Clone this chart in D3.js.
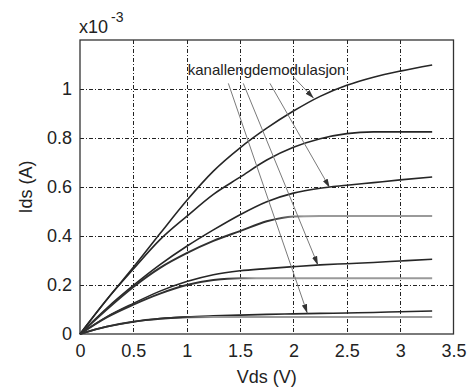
<!DOCTYPE html>
<html>
<head>
<meta charset="utf-8">
<script src="https://cdn.jsdelivr.net/npm/d3@7"></script>
<style>
  body { margin: 0; background: #fff; }
  text { font-family: "Liberation Sans", Arial, sans-serif; fill: #222; }
</style>
</head>
<body>
<svg id="chart" width="468" height="390"></svg>
<script>
/* globals d3 */

// Vds sample points (V)
const vds = [0, 0.25, 0.5, 0.75, 1, 1.25, 1.5, 1.75, 2, 2.25, 2.5, 2.75, 3, 3.3];

// Ids in units of 1e-3 A
// black = with channel length modulation, grey = without
const ids1 = [0, 0.14, 0.272, 0.41, 0.545, 0.665, 0.76, 0.84, 0.91, 0.97, 1.015, 1.048, 1.073, 1.098];
const ids2 = [0, 0.14, 0.265, 0.385, 0.48, 0.57, 0.64, 0.71, 0.762, 0.797, 0.818, 0.825, 0.825, 0.825];
const ids3 = [0, 0.105, 0.198, 0.283, 0.358, 0.425, 0.487, 0.54, 0.575, 0.595, 0.607, 0.618, 0.629, 0.641];
const ids4 = [0, 0.1, 0.192, 0.27, 0.33, 0.38, 0.42, 0.46, 0.48, 0.482, 0.482, 0.482, 0.482, 0.482];
const ids5 = [0, 0.07, 0.125, 0.175, 0.214, 0.242, 0.258, 0.267, 0.275, 0.282, 0.287, 0.292, 0.298, 0.305];
const ids6 = [0, 0.068, 0.12, 0.165, 0.2, 0.22, 0.228, 0.228, 0.228, 0.228, 0.228, 0.228, 0.228, 0.228];
const ids7 = [0, 0.03, 0.05, 0.063, 0.07, 0.074, 0.077, 0.08, 0.082, 0.084, 0.086, 0.088, 0.091, 0.094];
const ids8 = [0, 0.03, 0.05, 0.062, 0.068, 0.069, 0.069, 0.069, 0.069, 0.069, 0.069, 0.069, 0.069, 0.069];

// where the grey curves go flat (V)
const satV = [null, 2.6, null, 2.0, null, 1.55, null, 1.15];

const xTicks = [0, 0.5, 1, 1.5, 2, 2.5, 3, 3.5];
const yTicks = [0, 0.2, 0.4, 0.6, 0.8, 1];

const noteText = "kanallengdemodulasjon";
const notePos = [1.01, 1.057];
// arrows: [start vds, start ids, end vds, end ids]
const arrows = [
  [2.0, 1.049, 2.19, 0.962],
  [1.78, 1.023, 2.34, 0.597],
  [1.53, 1.023, 2.23, 0.281],
  [1.39, 1.023, 2.13, 0.085],
];

const svg = d3.select("#chart");
const x = d3.scaleLinear().domain([0, 3.5]).range([80, 453.5]);
const y = d3.scaleLinear().domain([0, 1.2]).range([334, 40]);

// grid
const grid = svg.append("g").attr("stroke", "#222").attr("stroke-width", 1)
  .attr("stroke-dasharray", "4,2,1,2");
grid.selectAll(".vg").data(xTicks.filter((d) => d > 0 && d < 3.5)).join("line")
  .attr("x1", (d) => Math.round(x(d)) + 0.5).attr("x2", (d) => Math.round(x(d)) + 0.5)
  .attr("y1", y(1.2)).attr("y2", y(0));
grid.selectAll(".hg").data(yTicks.filter((d) => d > 0)).join("line")
  .attr("y1", (d) => Math.round(y(d)) + 0.5).attr("y2", (d) => Math.round(y(d)) + 0.5)
  .attr("x1", x(0)).attr("x2", x(3.5));

// curves
const curves = [ids1, ids2, ids3, ids4, ids5, ids6, ids7, ids8];
const line = d3.line().x((d) => x(d[0])).y((d) => y(d[1])).curve(d3.curveMonotoneX);
const defs = svg.append("defs");

curves.forEach((ids, i) => {
  const pts = vds.map((v, k) => [v, ids[k]]);
  let stroke = "#262626";
  let width = 1.6;
  if (i === 3 || i === 5 || i === 7) {
    const g = defs.append("linearGradient").attr("id", "g" + i)
      .attr("gradientUnits", "userSpaceOnUse")
      .attr("x1", x(satV[i] - 0.2)).attr("x2", x(satV[i] + 0.1))
      .attr("y1", 0).attr("y2", 0);
    g.append("stop").attr("offset", 0).attr("stop-color", "#303030");
    g.append("stop").attr("offset", 1).attr("stop-color", "#9a9a9a");
    stroke = "url(#g" + i + ")";
    width = 2;
  }
  svg.append("path").datum(pts).attr("d", line)
    .attr("fill", "none").attr("stroke", stroke).attr("stroke-width", width);
});

// frame
svg.append("rect").attr("x", x(0)).attr("y", y(1.2))
  .attr("width", x(3.5) - x(0)).attr("height", y(0) - y(1.2))
  .attr("fill", "none").attr("stroke", "#333").attr("stroke-width", 1.3);

// axes
const xAxis = svg.append("g").attr("transform", `translate(0,${y(0)})`)
  .call(d3.axisBottom(x).tickValues(xTicks).tickFormat(d3.format("~g")).tickSize(0).tickPadding(10));
const yAxis = svg.append("g").attr("transform", `translate(${x(0)},0)`)
  .call(d3.axisLeft(y).tickValues(yTicks).tickFormat(d3.format("~g")).tickSize(0).tickPadding(8));
[xAxis, yAxis].forEach((a) => {
  a.select(".domain").remove();
  a.selectAll("text").attr("font-size", 18).attr("font-family", null).attr("fill", "#222");
  a.attr("font-family", null);
});

svg.append("text").attr("x", (x(0) + x(3.5)) / 2).attr("y", 383)
  .attr("text-anchor", "middle").attr("font-size", 18).text("Vds (V)");
svg.append("text").attr("transform", `translate(32,${(y(0) + y(1.2)) / 2}) rotate(-90)`)
  .attr("text-anchor", "middle").attr("font-size", 18).text("Ids (A)");

const mult = svg.append("text").attr("x", x(0) - 1).attr("y", 33).attr("font-size", 18);
mult.append("tspan").text("x10");
mult.append("tspan").attr("dx", 3).attr("dy", -11).attr("font-size", 14).text("-3");

// annotation
defs.append("marker").attr("id", "arr").attr("viewBox", "0 0 10 6")
  .attr("refX", 10).attr("refY", 3).attr("markerWidth", 9).attr("markerHeight", 6)
  .attr("markerUnits", "userSpaceOnUse").attr("orient", "auto")
  .append("path").attr("d", "M0,0L10,3L0,6Z").attr("fill", "#333");

svg.selectAll(".arrow").data(arrows).join("line")
  .attr("x1", (d) => x(d[0])).attr("y1", (d) => y(d[1]))
  .attr("x2", (d) => x(d[2])).attr("y2", (d) => y(d[3]))
  .attr("stroke", "#7a7a7a").attr("stroke-width", 1)
  .attr("marker-end", "url(#arr)");

svg.append("text").attr("x", x(notePos[0])).attr("y", y(notePos[1]))
  .attr("font-size", 15).attr("fill", "#333").text(noteText);
</script>
</body>
</html>
